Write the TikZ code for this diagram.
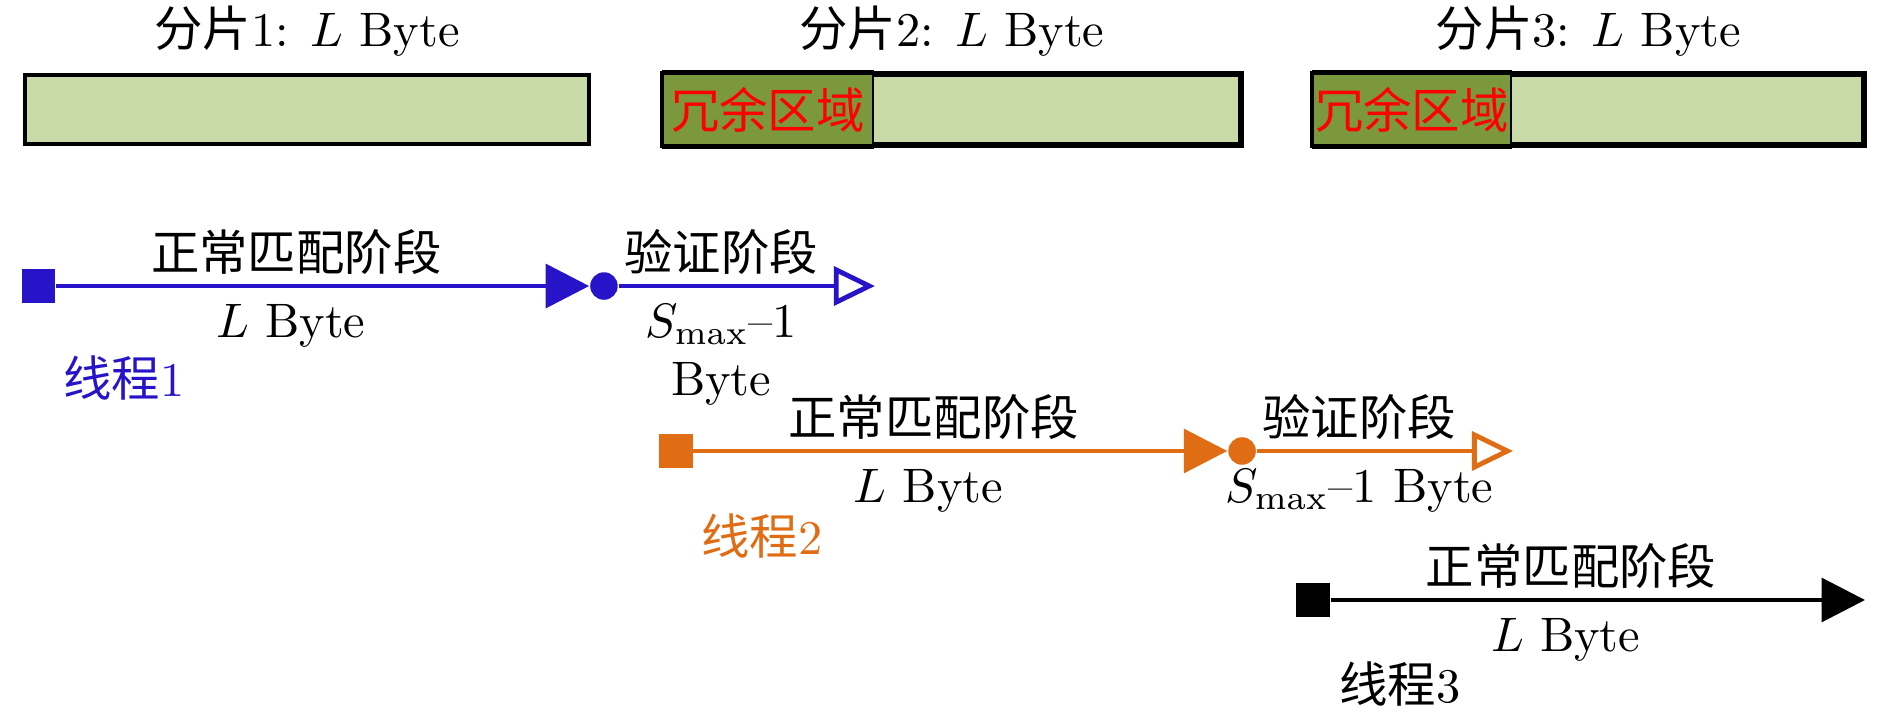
\documentclass[tikz,border=0pt]{standalone}
\usepackage{fontspec}
\newfontfamily\cjk{Noto Sans CJK SC}
\definecolor{threadblue}{RGB}{40, 20, 200}
\definecolor{threadorange}{RGB}{224, 108, 20}
\definecolor{sharddark}{RGB}{123, 152, 62}
\definecolor{shardlight}{RGB}{201, 218, 169}
\usetikzlibrary{arrows.meta}

\begin{document}
\begin{tikzpicture}[
  shard/.style={draw, line width=0.8pt, fill=shardlight, minimum height=0.5cm, inner sep=0pt},
  redund/.style={draw, fill=sharddark, text=red, minimum height=0.5cm, inner xsep=0pt, anchor=west},
  starter/.style={rectangle, minimum size=0.24cm, inner sep=0pt},
  joint/.style={circle, minimum size=0.2cm, inner sep=0pt},
  stage/.style={above=-1.4pt, text=black},
  bytes/.style={below, text=black},
  matchline/.style={line width=1pt, -{Triangle[length=9pt, width=9pt]}},
  verifyline/.style={line width=1pt, -{Triangle[open, length=8.5pt, width=8pt]}}
]
  \useasboundingbox (0, 0) rectangle (13.725, -5.178);

  % Shards
  \node[shard, minimum width=4.10cm] (b1) at (2.23, -0.795) {};
  \node[above] (h1) at (b1.north) {{\cjk 分片}1: $L$ Byte};

  \node[shard, minimum width=4.185cm] (b2) at (6.9125, -0.795) {};
  \node[redund, minimum width=1.527cm] (r2) at (b2.west) {{\cjk 冗余区域}};
  \draw[line width=0.8pt] (b2.south west) rectangle (b2.north east);
  \node[above] (h2) at (b2.north) {{\cjk 分片}2: $L$ Byte};

  \node[shard, minimum width=3.99cm] (b3) at (11.535, -0.795) {};
  \node[redund, minimum width=1.44cm] (r3) at (b3.west) {{\cjk 冗余区域}};
  \draw[line width=0.8pt] (b3.south west) rectangle (b3.north east);
  \node[above] (h3) at (b3.north) {{\cjk 分片}3: $L$ Byte};

  % Thread 1
  \node[starter, fill=threadblue] (s1) at (0.283, -2.077) {};
  \node[joint, fill=threadblue] (c1) at (4.386, -2.077) {};
  \coordinate (e1) at (6.354, -2.077);
  \draw[matchline, threadblue] (s1) -- (c1)
    node[pos=0.45, stage] (m1) {{\cjk 正常匹配阶段}}
    node[pos=0.44, bytes] (l1) {$L$ Byte};
  \draw[verifyline, threadblue] (c1) -- (e1)
    node[pos=0.4, stage] (v1) {{\cjk 验证阶段}}
    node[pos=0.4, bytes, align=center] (w1) {$S_{\max}$--1\\Byte};
  \node[text=threadblue] (t1) at (0.90, -2.745) {{\cjk 线程}1};

  % Thread 2
  \node[starter, fill=threadorange] (s2) at (4.909, -3.275) {};
  \node[joint, fill=threadorange] (c2) at (9.020, -3.275) {};
  \coordinate (e2) at (10.988, -3.275);
  \draw[matchline, threadorange] (s2) -- (c2)
    node[pos=0.45, stage] (m2) {{\cjk 正常匹配阶段}}
    node[pos=0.44, bytes] (l2) {$L$ Byte};
  \draw[verifyline, threadorange] (c2) -- (e2)
    node[pos=0.4, stage] (v2) {{\cjk 验证阶段}}
    node[pos=0.4, bytes] (w2) {$S_{\max}$--1 Byte};
  \node[text=threadorange] (t2) at (5.534, -3.893) {{\cjk 线程}2};

  % Thread 3
  \node[starter, fill=black] (s3) at (9.535, -4.357) {};
  \coordinate (e3) at (13.544, -4.357);
  \draw[matchline] (s3) -- (e3)
    node[pos=0.45, stage] (m3) {{\cjk 正常匹配阶段}}
    node[pos=0.44, bytes] (l3) {$L$ Byte};
  \node (t3) at (10.167, -4.967) {{\cjk 线程}3};
\end{tikzpicture}
\end{document}
